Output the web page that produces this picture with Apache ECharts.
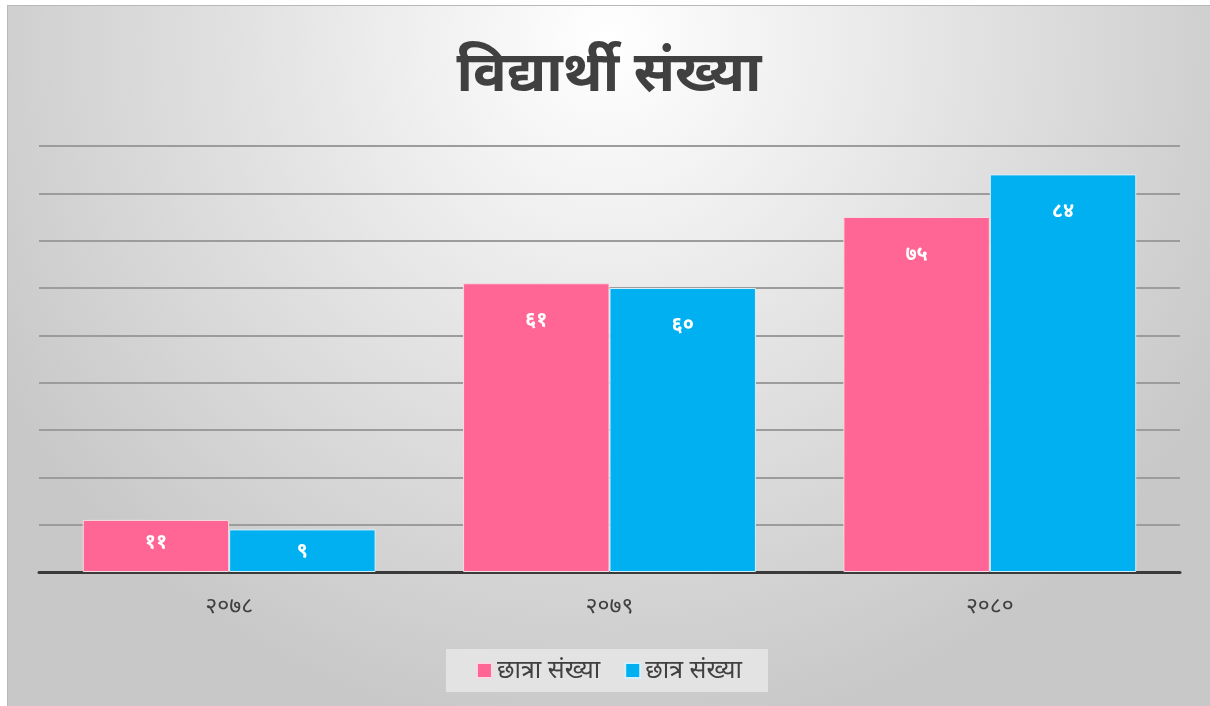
<!DOCTYPE html>
<html><head><meta charset="utf-8">
<script src="https://cdn.jsdelivr.net/npm/echarts@6/dist/echarts.min.js"></script>
<style>
html,body{margin:0;padding:0;background:#fff;width:1210px;height:706px;overflow:hidden}
#c{position:absolute;left:7px;top:5px;width:1203px;height:701px;border-top:1px solid #b8b8b8;border-left:1px solid #b8b8b8;box-sizing:border-box}
</style></head>
<body><div id="c"></div>
<script>
const titleText = 'विद्यार्थी संख्या';
const categories = ['२०७८', '२०७९', '२०८०'];
const seriesNames = ['छात्रा संख्या', 'छात्र संख्या'];
const girls = [11, 61, 75];
const boys = [9, 60, 84];
const digits = ['०','१','२','३','४','५','६','७','८','९'];
function toDev(n){ return String(n).split('').map(d => digits[+d] || d).join(''); }

const font = "'Noto Sans', 'Noto Sans Devanagari', sans-serif";
const chart = echarts.init(document.getElementById('c'));
const label = {
  show: true, position: 'insideTop', distance: 27, color: '#ffffff',
  fontSize: 20, fontWeight: 'bold', fontFamily: font,
  formatter: p => toDev(p.value)
};
function barData(vals){
  return vals.map(v => v < 20 ? {value: v, label: {distance: 12}} : v);
}
chart.setOption({
  backgroundColor: {
    type: 'radial', x: 0.5, y: 0.05, r: 1.0,
    colorStops: [{offset: 0, color: '#ffffff'}, {offset: 0.55, color: '#e0e0e0'}, {offset: 1, color: '#c8c8c8'}]
  },
  title: {
    text: titleText, left: 'center', top: 36,
    textStyle: {fontFamily: font, fontSize: 56, fontWeight: 'bold', color: '#404040'}
  },
  legend: {
    data: seriesNames, bottom: 14, left: 'center',
    backgroundColor: '#e3e3e3', padding: [9, 26, 9, 30],
    itemWidth: 15, itemHeight: 15, itemGap: 24, icon: 'rect',
    textStyle: {fontFamily: font, fontSize: 25, color: '#404040'}
  },
  grid: {left: 31, right: 30, top: 140, bottom: 134, containLabel: false},
  xAxis: {
    type: 'category', data: categories.map(String),
    axisLine: {lineStyle: {color: '#3a3a3a', width: 3}},
    axisTick: {show: false},
    axisLabel: {fontFamily: font, fontSize: 23, color: '#404040', margin: 23}
  },
  yAxis: {
    type: 'value', min: 0, max: 90, interval: 10,
    axisLabel: {show: false}, axisLine: {show: false}, axisTick: {show: false},
    splitLine: {lineStyle: {color: '#9c9c9c', width: 2}}
  },
  series: [
    {name: seriesNames[0], type: 'bar', data: barData(girls), barGap: '0%', barCategoryGap: '23%',
     itemStyle: {color: '#ff6695', borderColor: '#f4dbe3', borderWidth: 1}, label: label},
    {name: seriesNames[1], type: 'bar', data: barData(boys),
     itemStyle: {color: '#00b0f0', borderColor: '#d6eef8', borderWidth: 1}, label: label}
  ]
});
</script></body></html>
